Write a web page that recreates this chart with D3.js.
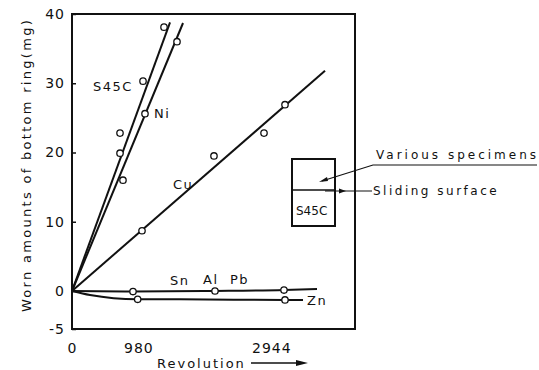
<!DOCTYPE html>
<html>
<head>
<meta charset="utf-8">
<script src="https://cdn.jsdelivr.net/npm/d3@7"></script>
<style>
  body { margin: 0; background: #fff; }
  svg text { font-family: "DejaVu Sans", sans-serif; fill: #111; }
</style>
</head>
<body>
<div id="chart"></div>
<script>
// revolutions vs worn amount (mg)
const s45cPts = [[709, 19.9], [709, 22.8], [1049, 30.3], [1359, 38.1]];
const s45cLine = [[0, 0], [1448, 38.8]];
const niPts = [[753, 16.0], [1078, 25.6], [1551, 36.0]];
const niLine = [[0, 0], [1640, 38.7]];
const cuPts = [[1034, 8.7], [2097, 19.5], [2836, 22.8], [3146, 26.9]];
const cuLine = [[0, 0], [3737, 31.8]];
const snPts = [[901, -0.07], [2112, 0], [3131, 0.14]];
const snLine = [[0, 0], [901, -0.07], [2112, 0], [3131, 0.14], [3619, 0.29]];
const znPts = [[970, -1.09], [3146, -1.18]];
const znLine = [[0, 0], [266, -0.53], [970, -1.09], [1595, -1.1], [3146, -1.18], [3412, -1.18]];

const xTicks = [0, 980, 2944];
const yTicks = [-5, 0, 10, 20, 30, 40];

const width = 539, height = 370;
const svg = d3.select('#chart').append('svg')
  .attr('width', width)
  .attr('height', height);

const x = d3.scaleLinear().domain([0, 4180]).range([72, 355]);
// the scanned axis is not quite even below zero
const y = d3.scaleLinear().domain([-5, 0, 40]).range([329, 291, 14]);

// frame
svg.append('rect')
  .attr('x', x(0)).attr('y', y(40))
  .attr('width', x(4180) - x(0)).attr('height', y(-5) - y(40))
  .attr('fill', 'none').attr('stroke', '#111').attr('stroke-width', 2);

// y axis: short inward ticks, labels on the left
const yAxis = d3.axisLeft(y).tickValues(yTicks).tickSize(-4).tickPadding(7)
  .tickFormat(d => d);
const gy = svg.append('g').attr('transform', `translate(${x(0)},0)`).call(yAxis);
gy.select('.domain').remove();
gy.selectAll('.tick line').attr('stroke', '#111').attr('stroke-width', 1.5);
gy.selectAll('.tick text').style('font-size', '14px').attr('letter-spacing', '1px');

// x axis: labels only
const xAxis = d3.axisBottom(x).tickValues(xTicks).tickSize(0).tickPadding(14)
  .tickFormat(d => d);
const gx = svg.append('g').attr('transform', `translate(0,${y(-5)})`).call(xAxis);
gx.select('.domain').remove();
gx.selectAll('.tick text').style('font-size', '14px').attr('letter-spacing', '1px');

// axis titles
svg.append('text')
  .attr('transform', 'translate(31,165) rotate(-90)')
  .attr('text-anchor', 'middle')
  .style('font-size', '13px')
  .attr('letter-spacing', '2.3px')
  .text('Worn amounts of bottom ring(mg)');

svg.append('text')
  .attr('x', 157).attr('y', 368)
  .style('font-size', '13px')
  .attr('letter-spacing', '2px')
  .text('Revolution');
svg.append('line')
  .attr('x1', 251).attr('y1', 363).attr('x2', 300).attr('y2', 363)
  .attr('stroke', '#111').attr('stroke-width', 1.5);
svg.append('path')
  .attr('d', 'M308,363 L296,360 L296,366 Z')
  .attr('fill', '#111');

// curves
const line = d3.line().x(d => x(d[0])).y(d => y(d[1]));
const smooth = d3.line().x(d => x(d[0])).y(d => y(d[1])).curve(d3.curveMonotoneX);

[s45cLine, niLine, cuLine].forEach(l => {
  svg.append('path').attr('d', line(l))
    .attr('fill', 'none').attr('stroke', '#111').attr('stroke-width', 2);
});
[snLine, znLine].forEach(l => {
  svg.append('path').attr('d', smooth(l))
    .attr('fill', 'none').attr('stroke', '#111').attr('stroke-width', 2);
});

// open markers
const allPts = [].concat(s45cPts, niPts, cuPts, snPts, znPts);
svg.selectAll('circle.pt').data(allPts).enter()
  .append('circle')
  .attr('class', 'pt')
  .attr('cx', d => x(d[0]))
  .attr('cy', d => y(d[1]))
  .attr('r', 3.2)
  .attr('fill', '#fff')
  .attr('stroke', '#111')
  .attr('stroke-width', 1.3);

// series labels
const labels = [
  { t: 'S45C', x: 93, y: 91 },
  { t: 'Ni', x: 154, y: 118 },
  { t: 'Cu', x: 173, y: 189 },
  { t: 'Sn', x: 170, y: 285 },
  { t: 'Al', x: 203, y: 284 },
  { t: 'Pb', x: 230, y: 284 },
  { t: 'Zn', x: 307, y: 305 }
];
svg.selectAll('text.lbl').data(labels).enter()
  .append('text')
  .attr('class', 'lbl')
  .attr('x', d => d.x).attr('y', d => d.y)
  .style('font-size', '13px')
  .attr('letter-spacing', '1.5px')
  .text(d => d.t);

// specimen sketch
const inset = svg.append('g');
inset.append('rect')
  .attr('x', 292).attr('y', 159).attr('width', 43).attr('height', 67)
  .attr('fill', 'none').attr('stroke', '#111').attr('stroke-width', 2);
inset.append('line')
  .attr('x1', 292).attr('y1', 190).attr('x2', 335).attr('y2', 190)
  .attr('stroke', '#111').attr('stroke-width', 1.3);
inset.append('text')
  .attr('x', 296).attr('y', 215)
  .style('font-size', '12px')
  .text('S45C');

// leader: various specimens
inset.append('polyline')
  .attr('points', '322,181 373,165 537,165')
  .attr('fill', 'none').attr('stroke', '#111').attr('stroke-width', 1.2);
inset.append('path')
  .attr('d', 'M319,182 L327,177 L328,181 Z')
  .attr('fill', '#111');
inset.append('text')
  .attr('x', 376).attr('y', 159)
  .style('font-size', '12px')
  .attr('letter-spacing', '3px')
  .text('Various specimens');

// leader: sliding surface
inset.append('line')
  .attr('x1', 325).attr('y1', 191).attr('x2', 372).attr('y2', 191)
  .attr('stroke', '#111').attr('stroke-width', 1.2);
inset.append('path')
  .attr('d', 'M346,191 L339,188.5 L339,193.5 Z')
  .attr('fill', '#111');
inset.append('text')
  .attr('x', 373).attr('y', 195)
  .style('font-size', '12px')
  .attr('letter-spacing', '2.5px')
  .text('Sliding surface');
</script>
</body>
</html>
